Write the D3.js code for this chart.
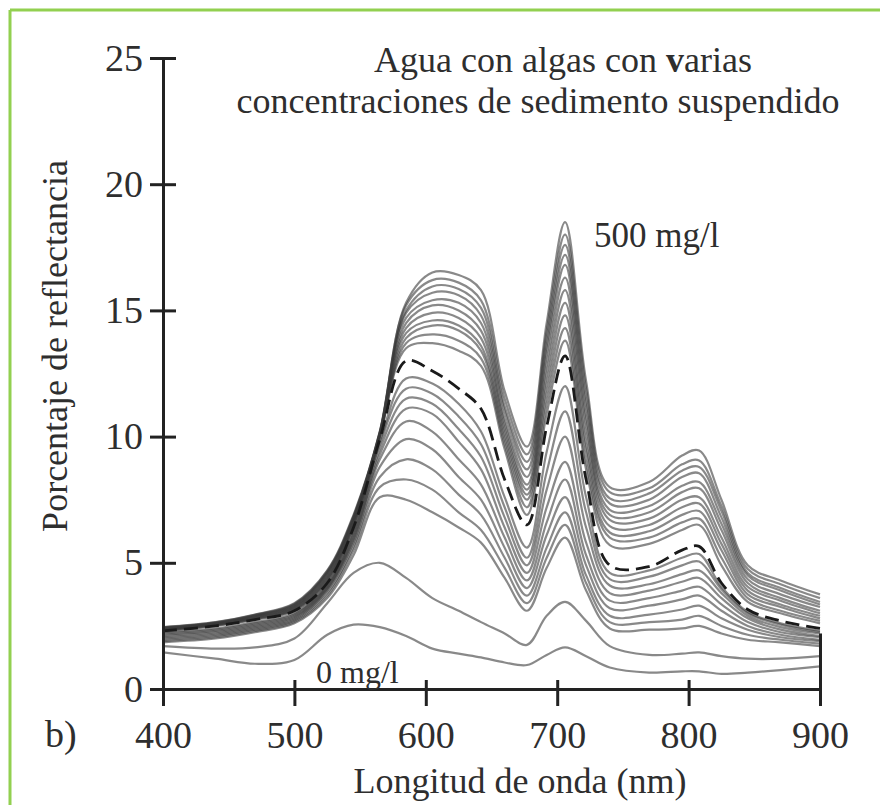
<!DOCTYPE html>
<html lang="es">
<head>
<meta charset="UTF-8">
<title>Agua con algas con varias concentraciones de sedimento suspendido</title>
<script src="https://d3js.org/d3.v7.min.js"></script>
<style>
    body { margin: 0; background: #fff; }
    svg text { font-family: "Liberation Serif", "Times New Roman", serif; fill: #2e2e2e; }
</style>
</head>
<body>
<div id="chart"></div>
<script>
const width = 880;
const height = 805;

const wavelengths = [400, 440, 470, 500, 525, 545, 565, 585, 605, 625, 642, 660, 677, 692, 706, 722, 740, 770, 795, 808, 825, 845, 870, 900];

// 0 mg/l and the next low concentration
const sed0 = [1.45, 1.2, 1.0, 1.15, 2.15, 2.55, 2.45, 2.1, 1.6, 1.4, 1.25, 1.05, 0.95, 1.35, 1.65, 1.3, 0.85, 0.65, 0.7, 0.7, 0.6, 0.65, 0.75, 0.9];
const sed1 = [1.7, 1.6, 1.65, 2.0, 3.4, 4.6, 5.0, 4.4, 3.6, 3.1, 2.65, 2.2, 1.75, 2.9, 3.45, 2.7, 1.7, 1.35, 1.4, 1.45, 1.3, 1.2, 1.2, 1.3];

// the bundle of higher concentrations, lowest first (last one = 500 mg/l)
const bundle = [
    [1.85, 2.0, 2.25, 2.6, 3.6, 5.3, 7.6, 7.5, 7.0, 6.4, 5.8, 4.4, 3.1, 4.8, 6.0, 3.9, 2.4, 2.35, 2.4, 2.5, 2.2, 1.95, 1.85, 1.7],
    [1.9, 2.05, 2.3, 2.65, 3.7, 5.5, 8.0, 8.3, 7.9, 7.0, 6.3, 4.8, 3.4, 5.2, 6.5, 4.2, 2.65, 2.65, 2.75, 2.9, 2.5, 2.15, 1.95, 1.8],
    [1.95, 2.1, 2.35, 2.7, 3.8, 5.65, 8.4, 9.1, 8.7, 7.7, 6.9, 5.2, 3.7, 5.6, 7.0, 4.5, 2.9, 2.95, 3.15, 3.3, 2.8, 2.35, 2.05, 1.9],
    [2.0, 2.15, 2.4, 2.75, 3.9, 5.8, 8.8, 9.9, 9.5, 8.4, 7.5, 5.6, 4.0, 6.1, 7.6, 4.9, 3.2, 3.3, 3.55, 3.7, 3.1, 2.5, 2.15, 1.95],
    [2.05, 2.2, 2.45, 2.8, 3.95, 5.9, 9.1, 10.6, 10.2, 9.1, 8.1, 6.0, 4.3, 6.6, 8.3, 5.3, 3.5, 3.6, 3.9, 4.05, 3.35, 2.65, 2.25, 2.05],
    [2.1, 2.25, 2.5, 2.85, 4.0, 6.0, 9.3, 11.1, 10.9, 9.8, 8.7, 6.4, 4.6, 7.2, 9.0, 5.8, 3.8, 3.9, 4.25, 4.4, 3.6, 2.8, 2.35, 2.1],
    [2.15, 2.3, 2.55, 2.9, 4.05, 6.1, 9.5, 11.5, 11.3, 10.3, 9.2, 6.8, 4.9, 7.9, 10.0, 6.4, 4.1, 4.15, 4.55, 4.7, 3.8, 2.9, 2.45, 2.2],
    [2.2, 2.35, 2.6, 2.95, 4.1, 6.2, 9.7, 11.9, 11.7, 10.8, 9.7, 7.2, 5.2, 8.6, 11.0, 7.0, 4.35, 4.45, 4.9, 5.05, 3.95, 3.0, 2.55, 2.25],
    [2.25, 2.4, 2.65, 3.0, 4.15, 6.3, 9.8, 12.3, 12.1, 11.3, 10.2, 7.6, 5.6, 9.4, 12.0, 7.6, 4.6, 4.7, 5.2, 5.35, 4.05, 3.05, 2.6, 2.3],
    [2.3, 2.5, 2.75, 3.1, 4.25, 6.45, 10.0, 13.5, 13.7, 13.4, 12.8, 9.5, 6.9, 10.9, 13.8, 8.7, 5.7, 5.75, 6.3, 6.5, 4.9, 3.45, 3.0, 2.6],
    [2.32, 2.52, 2.77, 3.13, 4.3, 6.5, 10.0, 13.7, 14.05, 13.8, 13.1, 9.7, 7.2, 11.3, 14.3, 9.0, 6.0, 6.0, 6.6, 6.75, 5.2, 3.6, 3.1, 2.7],
    [2.34, 2.54, 2.8, 3.16, 4.35, 6.55, 10.05, 13.9, 14.4, 14.2, 13.4, 9.9, 7.5, 11.7, 14.8, 9.4, 6.2, 6.25, 6.9, 7.05, 5.5, 3.75, 3.25, 2.8],
    [2.36, 2.56, 2.82, 3.19, 4.4, 6.6, 10.05, 14.1, 14.6, 14.4, 13.6, 10.1, 7.7, 12.1, 15.3, 9.7, 6.45, 6.5, 7.2, 7.35, 5.75, 3.9, 3.35, 2.9],
    [2.37, 2.57, 2.84, 3.22, 4.45, 6.65, 10.1, 14.3, 14.9, 14.7, 13.9, 10.3, 7.9, 12.5, 15.8, 10.1, 6.7, 6.75, 7.5, 7.6, 6.0, 4.05, 3.5, 3.0],
    [2.38, 2.58, 2.86, 3.25, 4.5, 6.7, 10.1, 14.5, 15.2, 15.0, 14.2, 10.5, 8.1, 12.9, 16.3, 10.5, 6.9, 7.0, 7.8, 7.95, 6.3, 4.2, 3.6, 3.1],
    [2.4, 2.6, 2.88, 3.28, 4.55, 6.75, 10.1, 14.7, 15.4, 15.3, 14.5, 10.7, 8.4, 13.3, 16.8, 10.8, 7.1, 7.25, 8.05, 8.2, 6.55, 4.35, 3.75, 3.25],
    [2.41, 2.61, 2.9, 3.31, 4.6, 6.8, 10.15, 14.9, 15.7, 15.6, 14.8, 11.0, 8.7, 13.6, 17.2, 11.2, 7.35, 7.5, 8.4, 8.55, 6.8, 4.5, 3.9, 3.35],
    [2.42, 2.62, 2.92, 3.34, 4.63, 6.82, 10.15, 15.0, 15.95, 15.85, 15.1, 11.2, 9.0, 13.9, 17.6, 11.5, 7.55, 7.75, 8.65, 8.8, 7.05, 4.6, 4.0, 3.45],
    [2.44, 2.64, 2.94, 3.37, 4.67, 6.85, 10.2, 15.2, 16.2, 16.1, 15.4, 11.5, 9.3, 14.2, 18.0, 11.9, 7.8, 7.95, 8.9, 9.05, 7.25, 4.75, 4.15, 3.6],
    [2.45, 2.65, 2.95, 3.4, 4.7, 6.9, 10.2, 15.3, 16.5, 16.4, 15.8, 11.8, 9.6, 14.5, 18.5, 12.2, 8.0, 8.2, 9.25, 9.45, 7.5, 4.9, 4.3, 3.75]
];

// the dashed reference spectrum
const dashed = [2.3, 2.5, 2.75, 3.1, 4.2, 6.4, 9.9, 13.0, 12.6, 11.9, 11.1, 8.3, 6.5, 10.4, 13.2, 8.3, 4.9, 4.85, 5.5, 5.65, 4.2, 3.15, 2.7, 2.4];

const xTicks = [400, 500, 600, 700, 800, 900];
const yTicks = [0, 5, 10, 15, 20, 25];

const titleLines = ["Agua con algas con ", "concentraciones de sedimento suspendido"];

const x = d3.scaleLinear().domain([400, 900]).range([163, 820]);
const y = d3.scaleLinear().domain([0, 25]).range([689, 58]);

const svg = d3.select("#chart")
    .append("svg")
    .attr("width", width)
    .attr("height", height);

svg.append("rect").attr("width", width).attr("height", height).attr("fill", "#fff");

// green frame (top and left only)
svg.append("line").attr("x1", 10).attr("x2", width).attr("y1", 10).attr("y2", 10)
    .attr("stroke", "#92d050").attr("stroke-width", 3);
svg.append("line").attr("x1", 10).attr("x2", 10).attr("y1", 10).attr("y2", height)
    .attr("stroke", "#92d050").attr("stroke-width", 3);

const line = d3.line()
    .x((d, i) => x(wavelengths[i]))
    .y(d => y(d))
    .curve(d3.curveCatmullRom.alpha(0.5));

const spectra = [sed0, sed1].concat(bundle);

svg.append("g")
    .selectAll("path")
    .data(spectra)
    .join("path")
    .attr("d", line)
    .attr("fill", "none")
    .attr("stroke", "#3a3a3a")
    .attr("stroke-opacity", 0.6)
    .attr("stroke-width", 2.2);

svg.append("path")
    .attr("d", line(dashed))
    .attr("fill", "none")
    .attr("stroke", "#1a1a1a")
    .attr("stroke-width", 2.8)
    .attr("stroke-dasharray", "14 7");

// y axis, ticks crossing the line
const yAxis = svg.append("g")
    .attr("transform", `translate(${x(400)},0)`)
    .call(d3.axisLeft(y).tickValues(yTicks).tickSizeInner(13).tickSizeOuter(0).tickPadding(7));
yAxis.selectAll(".tick line").attr("x1", 13);

// x axis
const xAxis = svg.append("g")
    .attr("transform", `translate(0,${y(0)})`)
    .call(d3.axisBottom(x).tickValues(xTicks).tickSizeInner(17).tickSizeOuter(0).tickPadding(15));
xAxis.selectAll(".tick line").attr("y1", -9);
xAxis.selectAll(".tick").filter(d => d === 900).select("line").attr("y1", y(2.2) - y(0));

svg.selectAll(".domain, .tick line").attr("stroke", "#222").attr("stroke-width", 3);
svg.selectAll(".tick text").style("font-size", "38px").attr("fill", "#2e2e2e");

// titles and labels
const t1 = svg.append("text").attr("x", 563).attr("y", 72)
    .attr("text-anchor", "middle").style("font-size", "36px");
t1.append("tspan").text(titleLines[0]).attr("xml:space", "preserve");
t1.append("tspan").text("v").style("font-weight", "bold");
t1.append("tspan").text("arias");

svg.append("text").attr("x", 538).attr("y", 113)
    .attr("text-anchor", "middle").style("font-size", "36px")
    .text(titleLines[1]);

svg.append("text").attr("x", 594).attr("y", 247)
    .style("font-size", "35px").text("500 mg/l");

svg.append("text").attr("x", 316).attr("y", 683)
    .style("font-size", "32px").text("0 mg/l");

svg.append("text").attr("x", 45).attr("y", 747)
    .style("font-size", "38px").text("b)");

svg.append("text").attr("x", 520).attr("y", 793)
    .attr("text-anchor", "middle").style("font-size", "36px")
    .text("Longitud de onda (nm)");

svg.append("text")
    .attr("transform", "translate(67,346) rotate(-90)")
    .attr("text-anchor", "middle").style("font-size", "36px")
    .text("Porcentaje de reflectancia");
</script>
</body>
</html>
